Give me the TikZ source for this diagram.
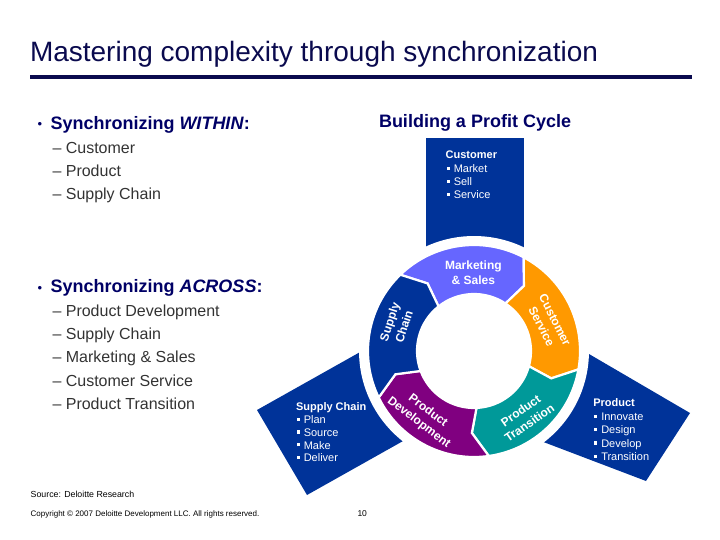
\documentclass[tikz,border=0pt]{standalone}
\usepackage{fontspec}
\setmainfont{Liberation Sans}
\usetikzlibrary{calc}
\definecolor{navy}{HTML}{0A0A4E}
\definecolor{headc}{HTML}{000066}
\definecolor{bodytxt}{HTML}{333333}
\definecolor{dblue}{HTML}{003399}
\definecolor{mkt}{HTML}{6666FF}
\definecolor{orng}{HTML}{FF9900}
\definecolor{tealc}{HTML}{009999}
\definecolor{purp}{HTML}{800080}
\newcommand{\sqbul}{\raisebox{0.24em}{\rule{0.28em}{0.28em}}\hspace{0.38em}}
\begin{document}
\begin{tikzpicture}[x=1pt,y=-1pt,
  lbl/.style={anchor=base west,inner sep=0pt,outer sep=0pt},
  ttl/.style={lbl,text=navy,font=\fontsize{28}{32}\selectfont},
  headtxt/.style={lbl,text=headc,font=\fontsize{18}{21}\selectfont\bfseries},
  itemtxt/.style={lbl,text=bodytxt,font=\fontsize{16}{19}\selectfont},
  boxhead/.style={lbl,text=white,font=\fontsize{11}{13}\selectfont\bfseries},
  boxitem/.style={lbl,text=white,font=\fontsize{11}{13}\selectfont},
  ringlbl/.style={text=white,font=\fontsize{12}{15}\selectfont\bfseries,align=center,inner sep=0pt},
  foot/.style={lbl,text=black,font=\fontsize{8}{10}\selectfont},
]
\useasboundingbox (0,0) rectangle (720,540);

% title
\node[ttl] (title) at (30,62) {Mastering complexity through synchronization};
\draw[navy,line width=3.5pt] (30,77) -- (692,77);

% left text
\node[lbl,text=headc,font=\fontsize{13}{15}\selectfont] (b1) at (37.5,128.5) {•};
\node[headtxt] (within) at (50.5,129.3) {Synchronizing \textit{WITHIN}:};
\node[itemtxt] (w1) at (52.5,153.3) {– Customer};
\node[itemtxt] (w2) at (52.5,176.7) {– Product};
\node[itemtxt] (w3) at (52.5,200) {– Supply Chain};

\node[lbl,text=headc,font=\fontsize{13}{15}\selectfont] (b2) at (37.5,292) {•};
\node[headtxt] (across) at (50.5,292.7) {Synchronizing \textit{ACROSS}:};
\node[itemtxt] (a1) at (52.5,316) {– Product Development};
\node[itemtxt] (a2) at (52.5,339.3) {– Supply Chain};
\node[itemtxt] (a3) at (52.5,362.7) {– Marketing \& Sales};
\node[itemtxt] (a4) at (52.5,386) {– Customer Service};
\node[itemtxt] (a5) at (52.5,409.3) {– Product Transition};

% heading of cycle
\node[headtxt] (cyc) at (379,127.3) {Building a Profit Cycle};

% blue shapes
\fill[dblue] (426,138) rectangle (524,262);
\fill[dblue] (257,410) -- (378,342) -- (428,427) -- (307,495) -- cycle;
\fill[dblue] (565,340) -- (690,413) -- (646,481) -- (525,435) -- cycle;
\fill[white] (474,351) circle (115pt);

% ring
\begin{scope}[shift={(474,351)}]
\foreach \b/\c in {134/mkt,62/orng,-10/tealc,-82/purp,-154/dblue}{
  \pgfmathsetmacro{\ee}{\b-72}
  \filldraw[fill=\c,draw=white,line width=2.2pt,line join=miter]
    (\b:106pt) arc[start angle=\b, end angle=\ee, radius=106pt]
    -- (\ee-9.5:82pt) -- (\ee-5.5:57pt)
    arc[start angle=\ee-5.5, end angle=\b-5.5, radius=57pt]
    -- (\b-9.5:82pt) -- cycle;
}
\end{scope}

% ring labels
\node[ringlbl,anchor=base] (mk1) at (473.4,269) {Marketing};
\node[ringlbl,anchor=base] (mk2) at (473.4,284.3) {\& Sales};
\node[ringlbl,rotate=72] (sc) at (396.7,324.3) {Supply\\Chain};
\node[ringlbl,rotate=-63] (cs) at (548.3,323.3) {Customer\\Service};
\node[ringlbl,rotate=-37] (pd) at (423.3,416.7) {Product\\Development};
\node[ringlbl,rotate=35] (pt) at (525,416.7) {Product\\Transition};

% customer box text
\node[boxhead] (cu0) at (445.7,159) {Customer};
\node[boxitem] (cu1) at (446.5,172.3) {\sqbul Market};
\node[boxitem] (cu2) at (446.5,185.3) {\sqbul Sell};
\node[boxitem] (cu3) at (446.5,198.5) {\sqbul Service};

% supply chain box text
\node[boxhead] (sc0) at (296,410) {Supply Chain};
\node[boxitem] (sc1) at (296.5,423.3) {\sqbul Plan};
\node[boxitem] (sc2) at (296.5,436.2) {\sqbul Source};
\node[boxitem] (sc3) at (296.5,449) {\sqbul Make};
\node[boxitem] (sc4) at (296.5,461.8) {\sqbul Deliver};

% product box text
\node[boxhead] (pr0) at (593.3,406.7) {Product};
\node[boxitem] (pr1) at (594,420.5) {\sqbul Innovate};
\node[boxitem] (pr2) at (594,433.8) {\sqbul Design};
\node[boxitem] (pr3) at (594,447.2) {\sqbul Develop};
\node[boxitem] (pr4) at (594,460.5) {\sqbul Transition};

% footer
\node[lbl,text=black,font=\fontsize{8.8}{10}\selectfont] (src) at (30.7,497.3) {Source: Deloitte Research};
\node[foot] (copy) at (30.7,516.7) {Copyright © 2007 Deloitte Development LLC. All rights reserved.};
\node[lbl,text=black,font=\fontsize{8.5}{10}\selectfont] (pg) at (357.5,516.7) {10};
\end{tikzpicture}
\end{document}
